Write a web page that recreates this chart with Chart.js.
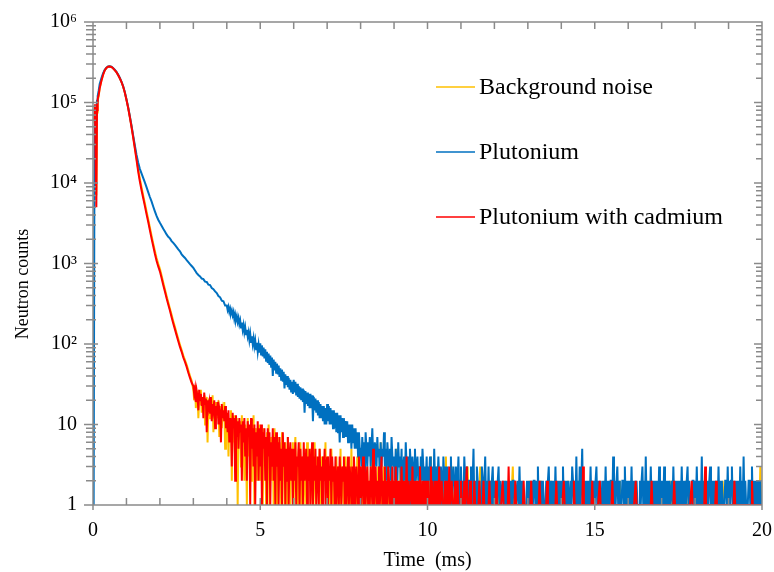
<!DOCTYPE html>
<html lang="en">
<head>
  <meta charset="UTF-8" />
  <title>Neutron counts vs time</title>
  <script src="https://cdn.jsdelivr.net/npm/chart.js"></script>
  <style>
    * { box-sizing: border-box; }
    html, body { margin: 0; padding: 0; background: #fff; }
    #chart { display: block; }
  </style>
</head>
<body>
  <canvas id="chart" width="774" height="572"></canvas>

  <script>
    // time grids (ms): a few early bins, the decay in 0.05 steps, the noisy tail in 0.025 steps
    const headTimes = [0.02, 0.04, 0.06, 0.08, 0.10, 0.12, 0.14, 0.17];
    const decayStart = 0.2;
    const decayStep = 0.05;
    const noiseStep = 0.025;
    const bgNoiseStart = 3.0;
    const puNoiseStart = 4.0;
    const cdNoiseStart = 3.0;

    const seriesLabels = ["Background noise", "Plutonium", "Plutonium with cadmium"];
    const yTickLabels = ["1", "10", "10²", "10³", "10⁴", "10⁵", "10⁶"];

    const bgHead = [null, 55000, 90000, 12000, 7000, 75000, 105000, 120000];
    const puHead = [1, 5000, 60000, 85000, 70000, 105000, 120000, 140000];
    const cdHead = [null, 60000, 95000, 15000, 5000, 80000, 110000, 125000];

    // decay: one row per ms from 0.20 ms
    const puDecay = [
      170000,200000,230000,255000,270000,280000,282000,278000,268000,255000,240000,222000,203000,182000,160000,135000,110000,88000,68000,52000,
      39000,29500,22500,18000,15000,13200,11600,10200,8900,7700,6700,5900,5100,4450,3900,3500,3200,2950,2700,2500,
      2300,2150,2050,1900,1800,1700,1600,1500,1420,1300,1230,1170,1100,1040,980,930,880,820,760,720,
      690,650,640,595,590,545,540,495,480,450,430,395,380,345,340,300
    ];
    const cdDecay = [
      150000,185000,220000,250000,268000,278000,280000,276000,266000,252000,238000,220000,200000,180000,158000,133000,108000,86000,66000,50000,
      37000,27000,19500,14000,10500,8200,6500,5200,4100,3300,2600,2050,1650,1320,1080,920,800,660,540,450,
      370,310,260,215,180,152,128,108,92,80,68,60,52,44,38,33
    ];
    const bgDecay = [
      152000,186000,222000,251000,269000,279000,281000,277000,267000,253000,239000,221000,201000,181000,159000,134000,109000,87000,67000,51000,
      38000,28000,20500,15000,11300,8900,7000,5600,4450,3550,2800,2220,1780,1430,1170,990,860,710,580,480,
      395,330,275,230,192,162,136,115,98,84,72,63,55,47,40,35
    ];

    // noisy tail: one row per ms
    const puNoise = [
      300,265,290,250,275,240,262,228,250,205,232,200,222,188,210,176,196,160,185,150,172,140,162,132,150,124,140,112,134,106,125,100,118,94,110,86,104,80,98,78,
      102,74,96,70,90,66,86,62,80,58,76,55,72,52,68,40,64,47,60,44,57,42,54,39,50,36,48,34,45,28,42,31,40,29,38,27,36,25,34,24,
      36,25,34,23,32,22,30,21,29,20,28,19,27,14,26,18,25,17,24,16,24,16,23,11,22,15,21,14,20,13,19,12,18,12,17,11,17,10,16,10,
      18,11,17,10,16,10,15,9,15,9,14,8,14,8,13,6,13,8,12,7,12,7,11,7,11,6,10,6,10,5,10,6,9,5,9,5,8,4,8,5,
      5,3,7,4,6,2,8,5,3,6,4,7,3,5,9,4,2,6,5,3,7,4,5,2,6,3,5,4,8,3,5,2,6,4,3,5,2,7,4,3,
      4,2,5,3,2,6,3,4,2,5,1,3,4,2,6,3,2,4,1,5,3,2,4,3,1,5,2,3,4,2,3,1,4,2,5,3,1,3,2,4,
      1,3,2,4,1,2,3,1,5,2,3,1,2,4,2,1,3,2,1,4,2,3,1,2,3,1,1,2,4,1,2,3,2,1,3,1,2,4,1,2,
      3,1,2,1,4,2,1,3,1,2,2,1,3,1,2,5,1,2,1,3,2,1,2,1,1,3,2,1,2,4,1,2,1,3,1,2,1,2,3,1,
      2,1,2,1,2,3,1,2,1,1,2,1,2,1,2,1,1,1,2,1,2,1,2,2,1,2,1,1,2,1,3,1,2,1,2,1,1,1,1,2,
      1,2,1,2,1,2,1,2,2,1,2,1,3,1,2,1,2,1,2,1,1,1,2,1,2,3,1,2,1,2,1,2,1,3,1,2,1,1,2,1,
      2,1,3,1,2,1,2,1,2,1,1,2,1,3,2,1,2,1,4,1,2,1,3,1,2,5,1,2,1,2,1,2,1,2,1,3,1,2,1,2,
      1,2,3,1,2,1,2,1,1,2,1,2,1,3,1,2,1,2,1,2,2,1,4,1,2,1,2,3,1,2,1,1,1,2,2,1,3,1,2,1,
      2,1,2,1,3,1,2,1,2,1,2,1,1,1,2,1,2,3,1,2,1,4,1,2,1,2,1,3,1,2,1,2,1,2,1,2,1,3,1,2,
      1,2,1,3,1,2,1,2,1,2,1,1,2,1,3,1,2,1,2,1,2,1,2,1,3,1,2,1,2,1,2,3,1,2,1,1,1,2,2,1,
      2,1,3,1,2,1,2,1,4,1,2,1,2,1,1,2,1,2,3,1,2,1,2,1,2,1,2,1,3,1,2,1,2,1,1,1,2,2,1,3,
      1,2,1,2,3,1,2,1,2,1,2,1,2,1,3,1,2,1,4,1,2,1,1,1,2,2,1,2,3,1,2,1,2,1,2,1,2,1,2,1,
      1
    ];
    const cdNoise = [
      30,24,28,19,26,22,15,27,20,24,17,22,12,25,18,21,8,20,16,19,14,22,11,18,15,20,9,17,13,19,10,16,14,6,18,12,15,11,17,9,
      14,8,15,6,12,10,3,14,9,12,2,13,7,11,5,12,8,10,2,11,6,12,4,9,2,11,7,10,1,12,5,9,3,10,1,8,4,11,2,9,
      3,10,1,8,5,9,2,7,1,9,4,8,1,6,3,9,2,7,1,8,3,6,1,7,2,5,1,8,3,6,1,5,2,7,1,4,6,2,5,1,
      5,2,6,1,4,3,6,1,5,2,4,1,6,2,3,5,1,4,2,5,1,3,6,1,4,2,5,1,3,4,1,5,2,3,1,4,2,5,1,3,
      4,1,3,2,5,1,4,2,3,1,4,1,2,3,1,4,2,1,3,2,4,1,3,1,2,4,1,3,2,1,3,1,4,2,1,3,2,1,4,1,
      3,1,2,4,1,3,1,2,3,1,2,1,3,2,1,5,1,2,3,1,2,1,3,1,2,4,1,2,1,3,1,2,1,3,2,1,2,1,3,1,
      2,1,3,1,2,1,2,1,1,3,1,2,1,2,1,4,1,2,1,1,2,1,3,1,2,1,1,2,1,2,1,3,1,1,2,1,2,1,1,2,
      1,2,1,1,3,1,2,1,1,2,1,1,2,1,3,1,1,2,1,1,1,2,1,1,2,1,3,1,1,2,1,1,1,2,1,1,2,1,1,1,
      2,1,1,1,2,1,1,3,1,1,1,2,1,1,1,1,2,1,1,1,1,1,2,1,1,1,1,2,1,1,1,1,1,1,2,1,1,1,1,1,
      1,1,2,1,1,1,1,1,1,1,2,1,1,1,1,1,1,3,1,1,1,1,1,1,1,2,1,1,1,1,1,1,1,1,1,2,1,1,1,1,
      1,1,1,1,2,1,1,1,1,1,1,1,1,1,2,1,1,1,1,1,1,1,1,2,1,1,1,1,1,1,1,1,1,1,2,1,1,1,1,1,
      1,1,1,2,1,1,1,1,1,1,1,1,1,1,1,2,1,1,1,1,1,1,1,1,1,1,3,1,1,1,1,1,1,1,1,1,1,2,1,1,
      1,1,1,1,1,1,2,1,1,1,1,1,1,1,1,1,1,1,1,1,1,2,1,1,1,1,1,1,1,1,1,1,1,1,1,1,1,1,1,1,
      1,1,1,1,1,1,1,1,1,2,1,1,1,1,1,1,1,1,1,1,1,1,1,1,1,1,1,1,2,1,1,1,1,1,1,1,1,1,1,1,
      1,1,1,1,1,1,1,1,1,1,1,1,1,1,1,2,1,1,1,1,1,1,1,1,1,1,1,1,1,1,1,1,1,1,1,1,2,1,1,1,
      1,1,1,1,1,1,1,1,1,1,1,1,3,1,1,1,1,1,1,1,1,1,1,1,1,2,1,1,1,1,1,1,1,1,1,1,1,1,1,1,
      1,1,1,1,1,1,1,2,1,1,1,1,1,1,1,1,1,1,1,1,1,1,1,1,1,1,1,1,2,1,1,1,1,1,1,1,1,1,1,1,
      1
    ];
    const bgNoise = [
      27,20,31,16,24,25,12,22,18,27,14,20,16,23,10,19,22,6,17,21,12,18,14,23,8,15,19,11,16,12,20,7,14,17,9,15,13,19,5,12,
      10,13,4,11,9,15,2,10,6,13,3,8,12,1,9,7,11,3,13,5,8,2,10,6,1,12,4,9,7,2,10,3,13,1,6,9,2,8,5,10,
      2,8,4,1,9,3,6,1,8,2,10,1,5,7,2,6,1,9,3,5,1,7,2,6,4,1,8,2,5,1,6,3,1,7,2,4,1,5,3,6,
      1,4,7,2,3,1,5,2,6,1,3,4,1,5,2,1,6,3,2,4,1,5,2,1,3,6,1,4,2,3,1,5,1,2,4,1,3,2,6,1,
      2,4,1,3,1,5,2,1,3,2,1,4,1,3,2,1,5,1,2,3,1,2,4,1,2,1,3,2,1,5,1,2,3,1,2,1,4,1,2,1,
      1,3,1,2,1,4,1,2,3,1,1,2,1,5,2,1,3,1,2,1,1,3,1,2,6,1,2,1,3,1,2,1,1,4,1,2,1,3,1,2,
      1,2,1,5,1,2,1,1,3,1,2,1,1,2,4,1,2,1,1,3,1,1,2,1,1,4,1,2,1,1,3,1,2,1,1,2,1,1,2,1,
      1,1,2,1,4,1,1,2,1,1,1,3,1,1,2,1,1,1,2,1,1,1,4,1,1,2,1,1,1,3,1,1,1,2,1,1,1,1,2,1,
      1,1,1,2,1,1,1,1,3,1,1,1,1,2,1,1,1,1,1,2,1,1,1,3,1,1,1,1,1,2,1,1,1,1,1,1,2,1,1,1,
      1,1,1,1,2,1,1,1,1,1,1,1,1,2,1,1,1,1,1,1,1,1,3,1,1,1,1,1,1,1,2,1,1,1,1,1,1,1,1,1,
      1,1,2,1,1,1,1,1,1,1,1,1,1,1,1,1,2,1,1,1,1,1,1,1,1,1,1,1,2,1,1,1,1,1,1,1,1,1,1,1,
      1,1,1,1,1,1,1,1,2,1,1,1,1,1,1,1,1,1,1,1,2,1,1,1,1,1,1,1,1,1,1,1,1,1,1,2,1,1,1,1,
      1,1,1,1,1,1,1,1,1,1,1,1,2,1,1,1,1,1,1,1,1,1,1,1,1,1,1,1,1,1,2,1,1,1,1,1,1,1,1,1,
      1,1,1,1,2,1,1,1,1,1,1,1,1,1,1,1,1,1,1,1,1,1,1,2,1,1,1,1,1,1,1,1,1,1,1,1,1,1,1,1,
      1,1,1,1,1,1,1,1,1,1,2,1,1,1,1,1,1,1,1,1,1,1,1,1,1,1,1,1,1,2,1,1,1,1,1,1,1,1,1,1,
      1,1,1,1,1,1,2,1,1,1,1,1,1,1,1,1,1,1,1,1,1,1,1,1,1,1,1,1,1,1,1,1,1,2,1,1,1,1,1,1,
      1,1,1,1,1,1,1,1,1,1,1,1,1,1,1,1,1,1,2,1,1,1,1,1,1,1,1,1,1,1,1,1,1,1,1,1,1,1,3,1,
      1
    ];

    const colors = ["#FFC000", "#0070C0", "#FF0000"];
    const axisColor = "#8a8a8a";
    const serif = '"Liberation Serif", "Times New Roman", serif';

    function buildPoints(head, decay, noiseStart, noise) {
      const pts = [];
      headTimes.forEach((t, i) => {
        if (head[i] !== null) pts.push({ x: t, y: head[i] });
      });
      decay.forEach((v, i) => pts.push({ x: +(decayStart + i * decayStep).toFixed(3), y: v }));
      noise.forEach((v, i) => pts.push({ x: +(noiseStart + i * noiseStep).toFixed(3), y: v }));
      return pts;
    }

    function noScalePadding(scale) {
      scale.paddingTop = 0;
      scale.paddingBottom = 0;
      scale.paddingLeft = 0;
      scale.paddingRight = 0;
    }

    // axis box, tick marks, titles and the in-plot legend
    const framePlugin = {
      id: "frame",
      afterDatasetsDraw(chart) {
        const { ctx, chartArea: a, scales: { x, y } } = chart;
        ctx.save();
        ctx.strokeStyle = axisColor;
        ctx.lineWidth = 1.5;
        ctx.beginPath();
        ctx.rect(a.left, a.top, a.right - a.left, a.bottom - a.top);
        for (let d = 0; d <= 6; d++) {
          for (let m = 1; m <= 9; m++) {
            const v = m * Math.pow(10, d);
            if (v > y.max) break;
            const py = y.getPixelForValue(v);
            const major = m === 1;
            ctx.moveTo(a.left - (major ? 9 : 7), py);
            ctx.lineTo(a.left + (major ? 5 : 3), py);
            ctx.moveTo(a.right - (major ? 8 : 6), py);
            ctx.lineTo(a.right, py);
          }
        }
        for (let t = x.min; t <= x.max; t += 1) {
          const px = x.getPixelForValue(t);
          const major = t % 5 === 0;
          ctx.moveTo(px, a.bottom - 7);
          ctx.lineTo(px, a.bottom + (major ? 5 : 0));
          ctx.moveTo(px, a.top);
          ctx.lineTo(px, a.top + 7);
        }
        ctx.stroke();
        ctx.restore();
      },
      afterDraw(chart) {
        const { ctx, chartArea: a } = chart;
        ctx.save();
        ctx.fillStyle = "#000";
        ctx.font = "20px " + serif;
        ctx.textAlign = "center";
        ctx.textBaseline = "alphabetic";
        ctx.fillText("Time  (ms)", (a.left + a.right) / 2, 566);

        ctx.save();
        ctx.font = "18px " + serif;
        ctx.translate(28, 284);
        ctx.rotate(-Math.PI / 2);
        ctx.fillText("Neutron counts", 0, 0);
        ctx.restore();

        // legend
        ctx.font = "24px " + serif;
        ctx.textAlign = "left";
        chart.data.datasets.forEach((ds, i) => {
          const ly = 87 + i * 65;
          ctx.strokeStyle = ds.borderColor;
          ctx.lineWidth = 1.5;
          ctx.beginPath();
          ctx.moveTo(436, ly);
          ctx.lineTo(475, ly);
          ctx.stroke();
          ctx.fillText(ds.label, 479, ly + 7);
        });
        ctx.restore();
      }
    };

    Chart.defaults.font.family = serif;
    Chart.defaults.color = "#000";

    new Chart(document.getElementById("chart"), {
      type: "line",
      data: {
        datasets: [
          { label: seriesLabels[0], data: buildPoints(bgHead, bgDecay, bgNoiseStart, bgNoise), borderColor: colors[0], order: 3 },
          { label: seriesLabels[1], data: buildPoints(puHead, puDecay, puNoiseStart, puNoise), borderColor: colors[1], order: 2 },
          { label: seriesLabels[2], data: buildPoints(cdHead, cdDecay, cdNoiseStart, cdNoise), borderColor: colors[2], order: 1 }
        ]
      },
      options: {
        responsive: false,
        animation: false,
        devicePixelRatio: 1,
        layout: { autoPadding: false, padding: { top: 22, right: 12, left: 0, bottom: 0 } },
        elements: {
          line: { borderWidth: 2, tension: 0, fill: false, borderJoinStyle: "miter" },
          point: { radius: 0, hoverRadius: 0 }
        },
        plugins: {
          legend: { display: false },
          tooltip: { enabled: false }
        },
        scales: {
          x: {
            type: "linear",
            min: 0,
            max: 20,
            grid: { display: false, drawTicks: false },
            border: { display: false },
            ticks: { stepSize: 5, padding: 14, font: { size: 20 }, color: "#000" },
            afterFit(scale) { scale.height = 67; noScalePadding(scale); }
          },
          y: {
            type: "logarithmic",
            min: 1,
            max: 1000000,
            grid: { display: false, drawTicks: false },
            border: { display: false },
            ticks: {
              autoSkip: false,
              padding: 16,
              font: { size: 20 },
              color: "#000",
              callback(v) {
                const e = Math.log10(v);
                return Math.abs(e - Math.round(e)) < 1e-9 ? yTickLabels[Math.round(e)] : "";
              }
            },
            afterFit(scale) { scale.width = 93; noScalePadding(scale); }
          }
        }
      },
      plugins: [framePlugin]
    });
  </script>
</body>
</html>
